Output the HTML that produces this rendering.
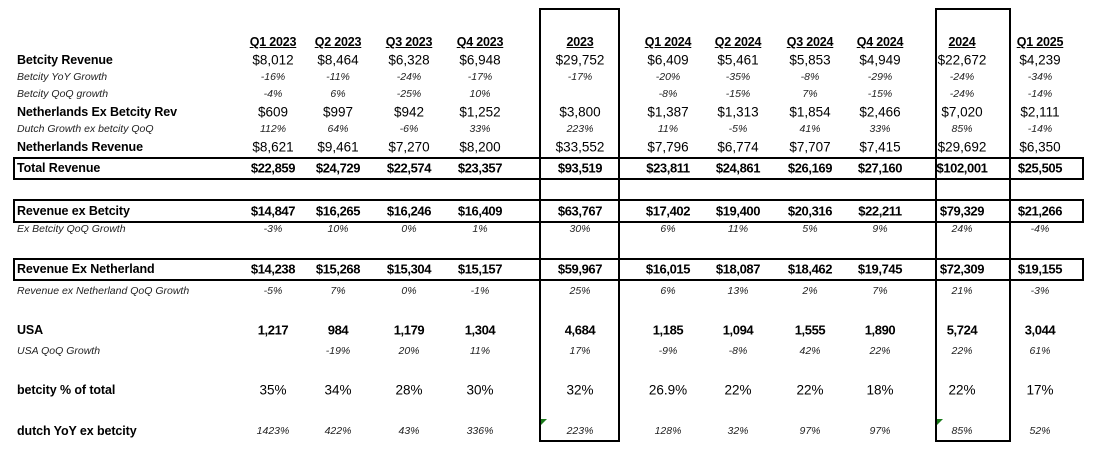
<!DOCTYPE html>
<html><head><meta charset="utf-8">
<style>
body{margin:0;background:#fff;}
#sheet{position:relative;width:1094px;height:451px;overflow:hidden;font-family:"Liberation Sans",sans-serif;color:#000;}
.c{position:absolute;white-space:nowrap;transform:translate(-50%,-50%);}
.l{position:absolute;white-space:nowrap;transform:translateY(-50%);left:17px;}
.box{position:absolute;border:2px solid #000;box-sizing:border-box;}
.h{font-weight:bold;text-decoration:underline;font-size:12.5px;letter-spacing:-0.2px;}
.big{font-size:13.5px;}
.bold{font-weight:bold;font-size:13px;letter-spacing:-0.4px;}
.it{font-style:italic;font-size:10.5px;color:#222;}
.lbold{font-weight:bold;font-size:12.5px;letter-spacing:-0.1px;}
.lit{font-style:italic;font-size:10.5px;color:#222;}
.tri{position:absolute;width:0;height:0;border-top:6px solid #1a7a1a;border-right:6px solid transparent;}
</style></head>
<body>
<div id="sheet">
  <div class="box" style="left:539px;top:8px;width:81px;height:434px;"></div>
  <div class="box" style="left:935px;top:8px;width:76px;height:434px;"></div>
  <div class="box" style="left:13px;top:157px;width:1071px;height:23px;"></div>
  <div class="box" style="left:13px;top:199px;width:1071px;height:24px;"></div>
  <div class="box" style="left:13px;top:258px;width:1071px;height:23px;"></div>
  <div class="tri" style="left:541px;top:419px;"></div>
  <div class="tri" style="left:937px;top:419px;"></div>
</div>
<script>
const headers=["Q1 2023","Q2 2023","Q3 2023","Q4 2023","2023","Q1 2024","Q2 2024","Q3 2024","Q4 2024","2024","Q1  2025"];
const colX=[273,338,409,480,580,668,738,810,880,962,1040];
const rowLabels=["Betcity Revenue","Betcity YoY Growth","Betcity QoQ growth","Netherlands Ex Betcity Rev","Dutch Growth ex betcity QoQ","Netherlands Revenue","Total Revenue","Revenue ex Betcity","Ex Betcity QoQ Growth","Revenue Ex Netherland","Revenue ex Netherland QoQ Growth","USA","USA QoQ Growth","betcity % of total","dutch YoY ex betcity"];
const rowStyles=["big","it","it","big","it","big","bold","bold","it","bold","it","bold","it","big","it"];
const labelStyles=["lbold","lit","lit","lbold","lit","lbold","lbold","lbold","lit","lbold","lit","lbold","lit","lbold","lbold"];
const rowY=[60,77,94,112,129,147,168,211,229,269,291,330,351,390,431];
const betcityRev=["$8,012","$8,464","$6,328","$6,948","$29,752","$6,409","$5,461","$5,853","$4,949","$22,672","$4,239"];
const betcityYoY=["-16%","-11%","-24%","-17%","-17%","-20%","-35%","-8%","-29%","-24%","-34%"];
const betcityQoQ=["-4%","6%","-25%","10%","","-8%","-15%","7%","-15%","-24%","-14%"];
const nlExBetcity=["$609","$997","$942","$1,252","$3,800","$1,387","$1,313","$1,854","$2,466","$7,020","$2,111"];
const dutchGrowth=["112%","64%","-6%","33%","223%","11%","-5%","41%","33%","85%","-14%"];
const nlRev=["$8,621","$9,461","$7,270","$8,200","$33,552","$7,796","$6,774","$7,707","$7,415","$29,692","$6,350"];
const totalRev=["$22,859","$24,729","$22,574","$23,357","$93,519","$23,811","$24,861","$26,169","$27,160","$102,001","$25,505"];
const revExBetcity=["$14,847","$16,265","$16,246","$16,409","$63,767","$17,402","$19,400","$20,316","$22,211","$79,329","$21,266"];
const exBetcityQoQ=["-3%","10%","0%","1%","30%","6%","11%","5%","9%","24%","-4%"];
const revExNl=["$14,238","$15,268","$15,304","$15,157","$59,967","$16,015","$18,087","$18,462","$19,745","$72,309","$19,155"];
const revExNlQoQ=["-5%","7%","0%","-1%","25%","6%","13%","2%","7%","21%","-3%"];
const usa=["1,217","984","1,179","1,304","4,684","1,185","1,094","1,555","1,890","5,724","3,044"];
const usaQoQ=["","-19%","20%","11%","17%","-9%","-8%","42%","22%","22%","61%"];
const betcityPct=["35%","34%","28%","30%","32%","26.9%","22%","22%","18%","22%","17%"];
const dutchYoY=["1423%","422%","43%","336%","223%","128%","32%","97%","97%","85%","52%"];
const rows=[betcityRev,betcityYoY,betcityQoQ,nlExBetcity,dutchGrowth,nlRev,totalRev,revExBetcity,exBetcityQoQ,revExNl,revExNlQoQ,usa,usaQoQ,betcityPct,dutchYoY];
const sheet=document.getElementById('sheet');
headers.forEach((h,i)=>{
  const d=document.createElement('div');
  d.className='c h';
  d.style.left=colX[i]+'px';d.style.top='42px';
  d.textContent=h;
  
  
  sheet.appendChild(d);
});
rowLabels.forEach((lab,r)=>{
  const d=document.createElement('div');
  d.className='l '+labelStyles[r];
  d.style.top=rowY[r]+'px';
  d.textContent=lab;
  
  
  sheet.appendChild(d);
  rows[r].forEach((v,i)=>{
    if(!v)return;
    const c=document.createElement('div');
    c.className='c '+rowStyles[r];
    c.style.left=colX[i]+'px';c.style.top=rowY[r]+'px';
    c.textContent=v;
    
    
    sheet.appendChild(c);
  });
});
</script>
</body></html>
